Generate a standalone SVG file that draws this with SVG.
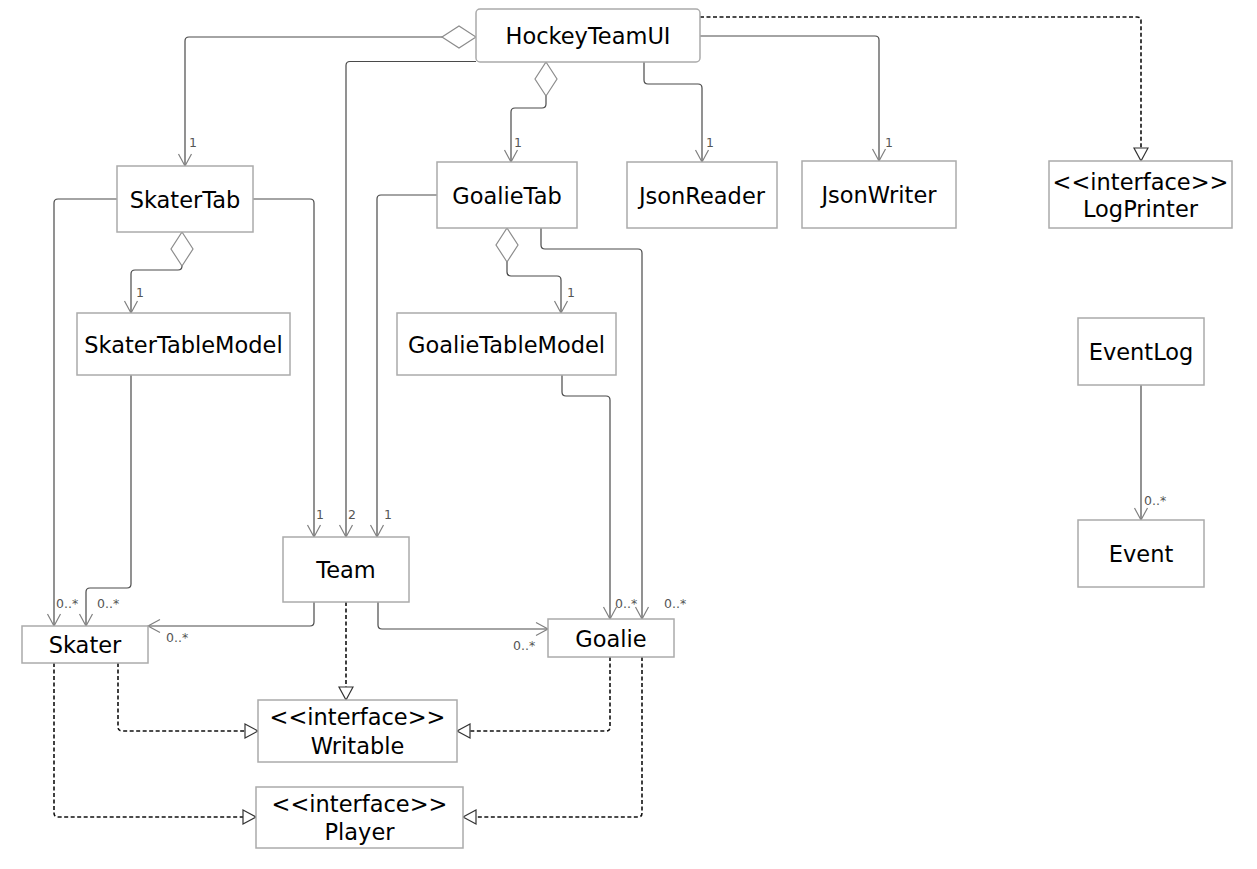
<svg xmlns="http://www.w3.org/2000/svg" width="1257" height="869" viewBox="0 0 1257 869">
<style>
.box{fill:#fff;stroke:#ababab;stroke-width:1.5}
.t{font-family:"DejaVu Sans",Verdana,sans-serif;font-size:22.5px;fill:#000;text-anchor:middle}
.lbl{font-family:"DejaVu Sans",Verdana,sans-serif;font-size:12.5px;fill:#555}
.c{fill:none;stroke:#4a4a4a;stroke-width:1.2}
.d{fill:none;stroke:#111;stroke-width:1.6;stroke-dasharray:4,2.5}
.arr{marker-end:url(#arr)}
.agg{marker-start:url(#dia)}
.real{marker-end:url(#tri)}
</style>
<defs>
<marker id="arr" viewBox="-14 -8 16 16" refX="0" refY="0" markerWidth="16" markerHeight="16" orient="auto" markerUnits="userSpaceOnUse">
<path d="M-12,-6.5 L0,0 L-12,6.5" fill="none" stroke="#808080" stroke-width="1.2"/>
</marker>
<marker id="tri" viewBox="-15 -9 17 18" refX="0" refY="0" markerWidth="17" markerHeight="18" orient="auto" markerUnits="userSpaceOnUse">
<path d="M-13,-7 L0,0 L-13,7 Z" fill="#fff" stroke="#333" stroke-width="1.2"/>
</marker>
<marker id="dia" viewBox="-1 -13 37 26" refX="0" refY="0" markerWidth="37" markerHeight="26" orient="auto" markerUnits="userSpaceOnUse">
<path d="M0,0 L17,-11 L34,0 L17,11 Z" fill="#fff" stroke="#8c8c8c" stroke-width="1.2"/>
</marker>
</defs>
<rect width="1257" height="869" fill="#fff"/>
<g id="connectors">
<path class="c arr agg" d="M476,37 H189 Q185,37 185,41 V166"/>
<path class="c arr" d="M476,61.5 H350 Q346,61.5 346,65.5 V537"/>
<path class="c arr agg" d="M546,62 V104 Q546,108 542,108 H515 Q511,108 511,112 V162"/>
<path class="c arr" d="M644,62 V80 Q644,84 648,84 H698 Q702,84 702,88 V162"/>
<path class="c arr" d="M700,36 H875 Q879,36 879,40 V161"/>
<path class="d real" d="M700,17 H1137 Q1141,17 1141,21 V161"/>
<path class="c arr agg" d="M182,232 V266 Q182,270 178,270 H135 Q131,270 131,274 V313"/>
<path class="c arr" d="M117,199 H58 Q54,199 54,203 V626"/>
<path class="c arr" d="M253,199 H310 Q314,199 314,203 V537"/>
<path class="c arr" d="M131,375 V584 Q131,588 127,588 H90 Q86,588 86,592 V626"/>
<path class="c arr" d="M437,195 H381 Q377,195 377,199 V537"/>
<path class="c arr agg" d="M507,228 V272 Q507,276 511,276 H557 Q561,276 561,280 V313"/>
<path class="c arr" d="M541,228 V245 Q541,249 545,249 H638 Q642,249 642,253 V619"/>
<path class="c arr" d="M562,375 V392 Q562,396 566,396 H606 Q610,396 610,400 V619"/>
<path class="c arr" d="M314,602 V622 Q314,626 310,626 H148"/>
<path class="c arr" d="M378,602 V625 Q378,629 382,629 H548"/>
<path class="d real" d="M346,602 V700"/>
<path class="d real" d="M118,663 V727 Q118,731 122,731 H258"/>
<path class="d real" d="M54,663 V813 Q54,817 58,817 H256"/>
<path class="d real" d="M610,657 V727 Q610,731 606,731 H457"/>
<path class="d real" d="M642,657 V813 Q642,817 638,817 H463"/>
<path class="c arr" d="M1141,385 V520"/>
<text class="lbl" x="189" y="147">1</text>
<text class="lbl" x="514" y="147">1</text>
<text class="lbl" x="706" y="147">1</text>
<text class="lbl" x="885" y="147">1</text>
<text class="lbl" x="136" y="297">1</text>
<text class="lbl" x="567" y="297">1</text>
<text class="lbl" x="316" y="519">1</text>
<text class="lbl" x="348" y="519">2</text>
<text class="lbl" x="384" y="519">1</text>
<text class="lbl" x="56" y="608">0..*</text>
<text class="lbl" x="97" y="608">0..*</text>
<text class="lbl" x="166" y="642">0..*</text>
<text class="lbl" x="615" y="608">0..*</text>
<text class="lbl" x="664" y="608">0..*</text>
<text class="lbl" x="513" y="650">0..*</text>
<text class="lbl" x="1144" y="505">0..*</text>
</g>
<g id="HockeyTeamUI"><rect class="box" x="476" y="9" width="224" height="53" rx="4"/><text class="t" x="588" y="44">HockeyTeamUI</text></g>
<g id="SkaterTab"><rect class="box" x="117" y="166" width="136" height="66"/><text class="t" x="185" y="207.5">SkaterTab</text></g>
<g id="GoalieTab"><rect class="box" x="437" y="162" width="140" height="66"/><text class="t" x="507" y="203.5">GoalieTab</text></g>
<g id="JsonReader"><rect class="box" x="627" y="162" width="150" height="66"/><text class="t" x="702" y="203.5">JsonReader</text></g>
<g id="JsonWriter"><rect class="box" x="802" y="161" width="154" height="67"/><text class="t" x="879" y="203">JsonWriter</text></g>
<g id="LogPrinter"><rect class="box" x="1049" y="161" width="183" height="67"/><text class="t" x="1140.5" y="190">&lt;&lt;interface&gt;&gt;</text><text class="t" x="1140.5" y="217">LogPrinter</text></g>
<g id="SkaterTableModel"><rect class="box" x="77" y="313" width="213" height="62"/><text class="t" x="183.5" y="352.5">SkaterTableModel</text></g>
<g id="GoalieTableModel"><rect class="box" x="397" y="313" width="219" height="62"/><text class="t" x="506.5" y="352.5">GoalieTableModel</text></g>
<g id="EventLog"><rect class="box" x="1078" y="318" width="126" height="67"/><text class="t" x="1141" y="360">EventLog</text></g>
<g id="Event"><rect class="box" x="1078" y="520" width="126" height="67"/><text class="t" x="1141" y="562">Event</text></g>
<g id="Team"><rect class="box" x="283" y="537" width="126" height="65"/><text class="t" x="346" y="578">Team</text></g>
<g id="Skater"><rect class="box" x="22" y="626" width="126" height="37"/><text class="t" x="85" y="653">Skater</text></g>
<g id="Goalie"><rect class="box" x="548" y="619" width="126" height="38"/><text class="t" x="611" y="646.5">Goalie</text></g>
<g id="Writable"><rect class="box" x="258" y="700" width="199" height="62"/><text class="t" x="357.5" y="725">&lt;&lt;interface&gt;&gt;</text><text class="t" x="357.5" y="754">Writable</text></g>
<g id="Player"><rect class="box" x="256" y="787" width="207" height="61"/><text class="t" x="359.5" y="812">&lt;&lt;interface&gt;&gt;</text><text class="t" x="359.5" y="840">Player</text></g>
</svg>
